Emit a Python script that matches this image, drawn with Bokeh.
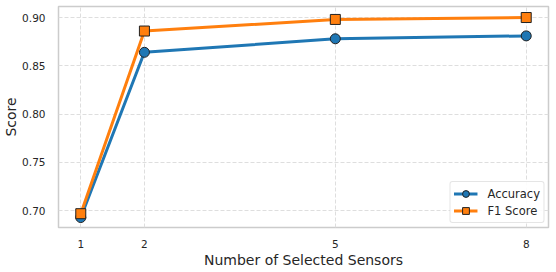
from bokeh.plotting import figure
from bokeh.models import FixedTicker, Range1d, Legend, LegendItem, NumeralTickFormatter
from bokeh.embed import file_html
from bokeh.resources import INLINE

sensors = [1, 2, 5, 8]
accuracy = [0.693, 0.864, 0.878, 0.881]
f1_score = [0.697, 0.886, 0.898, 0.900]
x_ticks = [1, 2, 5, 8]
y_ticks = [0.70, 0.75, 0.80, 0.85, 0.90]

FONT = "DejaVu Sans"

p = figure(width=556, height=272, output_backend="svg", toolbar_location=None,
           x_range=Range1d(0.65, 8.35), y_range=Range1d(0.6827, 0.9114),
           min_border_left=57, min_border_right=8, min_border_top=6, min_border_bottom=45)
p.background_fill_color = "white"
p.border_fill_color = "white"
p.outline_line_color = "#cccccc"
p.outline_line_width = 1.5

for ax in (p.xaxis, p.yaxis):
    ax.axis_line_color = None
    ax.major_tick_line_color = None
    ax.minor_tick_line_color = None
    ax.major_label_text_font = FONT
    ax.major_label_text_font_size = "10.5px"
    ax.major_label_text_color = "#262626"
    ax.axis_label_text_font = FONT
    ax.axis_label_text_font_size = "14px"
    ax.axis_label_text_font_style = "normal"
    ax.axis_label_text_color = "#262626"

p.xaxis.ticker = FixedTicker(ticks=x_ticks)
p.yaxis.ticker = FixedTicker(ticks=y_ticks)
p.yaxis.formatter = NumeralTickFormatter(format="0.00")
p.xaxis.axis_label = "Number of Selected Sensors"
p.yaxis.axis_label = "Score"
p.xaxis.major_label_standoff = 6
p.xaxis.axis_label_standoff = 1
p.yaxis.major_label_standoff = 7
p.yaxis.axis_label_standoff = 0

for g in (p.xgrid, p.ygrid):
    g.grid_line_color = "#dedede"
    g.grid_line_dash = "4 2"
    g.grid_line_width = 1

l1 = p.line(sensors, accuracy, line_color="#1f77b4", line_width=3)
m1 = p.scatter(sensors, accuracy, marker="circle", size=10, fill_color="#1f77b4",
               line_color="#222222", line_width=1)
l2 = p.line(sensors, f1_score, line_color="#ff7f0e", line_width=3)
m2 = p.scatter(sensors, f1_score, marker="square", size=10, fill_color="#ff7f0e",
               line_color="#222222", line_width=1)

legend = Legend(items=[LegendItem(label="Accuracy", renderers=[l1, m1]),
                       LegendItem(label="F1 Score", renderers=[l2, m2])],
                location="bottom_right")
legend.label_text_font = FONT
legend.label_text_font_size = "11.5px"
legend.label_text_color = "#262626"
legend.border_line_color = "#cccccc"
legend.border_radius = 3
legend.glyph_width = 24
legend.glyph_height = 17
legend.label_height = 17
legend.spacing = 0
legend.padding = 3
legend.margin = 4
legend.label_standoff = 10
legend.background_fill_alpha = 0.9
p.add_layout(legend)

open("out.html", "w").write(file_html(p, INLINE))
